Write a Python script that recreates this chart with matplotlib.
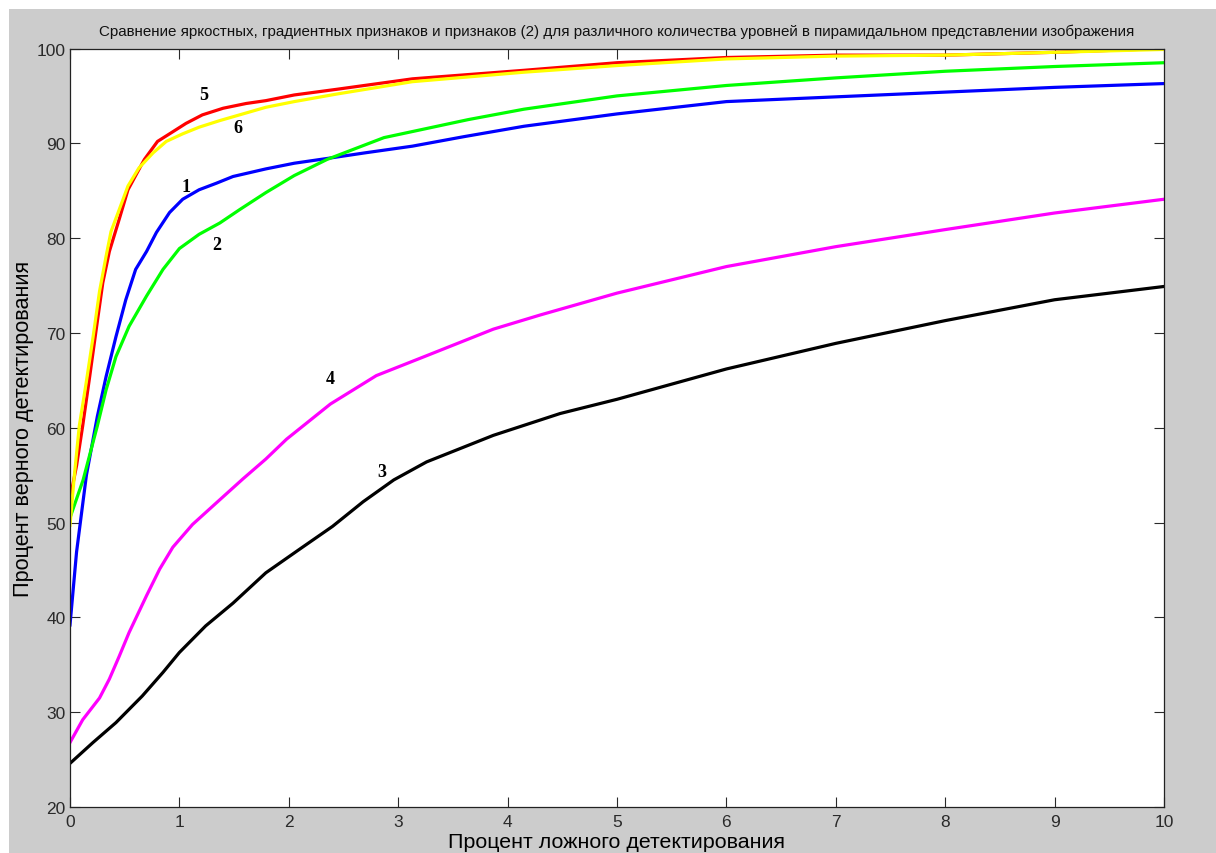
import matplotlib
matplotlib.use("Agg")
import matplotlib.pyplot as plt
from matplotlib.patches import Rectangle

# ---- data ----
x1 = [0, 0.06, 0.15, 0.25, 0.33, 0.42, 0.51, 0.60, 0.70, 0.79, 0.91, 1.03, 1.18, 1.34, 1.49, 1.64, 1.79, 2.05, 2.35, 2.7, 3.13, 3.6, 4.15, 5, 6, 7, 8, 9, 10]
y1 = [39.2, 46.9, 55.0, 61.2, 65.4, 69.6, 73.5, 76.7, 78.6, 80.6, 82.7, 84.1, 85.1, 85.8, 86.5, 86.9, 87.3, 87.9, 88.4, 89.0, 89.7, 90.7, 91.8, 93.1, 94.4, 94.9, 95.4, 95.9, 96.3]

x2 = [0, 0.12, 0.25, 0.33, 0.42, 0.54, 0.70, 0.85, 1.0, 1.18, 1.37, 1.55, 1.79, 2.05, 2.35, 2.87, 3.64, 4.15, 5, 6, 7, 8, 9, 10]
y2 = [50.5, 54.5, 60.2, 64.0, 67.5, 70.7, 73.9, 76.7, 78.9, 80.4, 81.6, 83.0, 84.8, 86.6, 88.3, 90.6, 92.5, 93.6, 95.0, 96.1, 96.9, 97.6, 98.1, 98.5]

x3 = [0, 0.21, 0.42, 0.66, 0.85, 1.0, 1.24, 1.49, 1.79, 2.10, 2.40, 2.68, 2.96, 3.26, 3.87, 4.48, 5, 6, 7, 8, 9, 10]
y3 = [24.6, 26.8, 28.9, 31.7, 34.2, 36.3, 39.1, 41.5, 44.7, 47.2, 49.6, 52.2, 54.5, 56.4, 59.2, 61.5, 63.0, 66.2, 68.9, 71.3, 73.5, 74.9]

x4 = [0, 0.116, 0.27, 0.36, 0.45, 0.54, 0.70, 0.82, 0.94, 1.12, 1.34, 1.58, 1.79, 1.98, 2.38, 2.80, 3.26, 3.87, 4.3, 5, 6, 7, 8, 9, 10]
y4 = [26.8, 29.2, 31.5, 33.5, 35.9, 38.4, 42.3, 45.1, 47.4, 49.8, 52.1, 54.6, 56.7, 58.8, 62.5, 65.5, 67.6, 70.4, 71.9, 74.2, 77.0, 79.1, 80.9, 82.65, 84.1]

x5 = [0, 0.06, 0.116, 0.18, 0.24, 0.30, 0.36, 0.45, 0.53, 0.60, 0.68, 0.80, 0.91, 1.06, 1.21, 1.40, 1.61, 1.79, 2.05, 2.44, 3.13, 4.15, 5, 6, 7, 8, 9, 10]
y5 = [52.5, 56.0, 60.2, 65.4, 70.4, 75.3, 78.6, 82.0, 85.1, 86.6, 88.3, 90.2, 91.0, 92.1, 93.0, 93.7, 94.2, 94.5, 95.1, 95.7, 96.8, 97.7, 98.5, 99.05, 99.3, 99.3, 99.6, 100]

x6 = [0, 0.04, 0.085, 0.146, 0.21, 0.27, 0.33, 0.375, 0.44, 0.53, 0.63, 0.76, 0.88, 1.03, 1.18, 1.37, 1.58, 1.79, 2.05, 2.44, 3.13, 4.15, 5, 6, 7, 8, 9, 10]
y6 = [49.7, 55.0, 60.2, 64.6, 69.5, 74.4, 78.1, 80.7, 82.7, 85.5, 87.4, 89.0, 90.2, 91.0, 91.7, 92.4, 93.1, 93.8, 94.4, 95.2, 96.5, 97.5, 98.2, 98.9, 99.2, 99.3, 99.6, 99.9]

labels = ["1", "2", "3", "4", "5", "6"]
label_x = [1.06, 1.34, 2.85, 2.38, 1.22, 1.53]
label_y = [85.4, 79.3, 55.4, 65.2, 95.1, 91.7]

xticks = [0, 1, 2, 3, 4, 5, 6, 7, 8, 9, 10]
yticks = [20, 30, 40, 50, 60, 70, 80, 90, 100]

title = ("Сравнение яркостных, градиентных признаков и признаков (2) для различного "
         "количества уровней в пирамидальном представлении изображения")
xlabel = "Процент ложного детектирования"
ylabel = "Процент верного детектирования"

# ---- figure ----
fig = plt.figure(figsize=(12.16, 8.54), dpi=100, facecolor="#cccccc")
fig.add_artist(Rectangle((0, 1 - 10 / 854), 1, 10 / 854, transform=fig.transFigure,
                         facecolor="white", edgecolor="none"))
fig.add_artist(Rectangle((0, 0), 9 / 1216, 1, transform=fig.transFigure,
                         facecolor="white", edgecolor="none"))

ax = fig.add_axes([70 / 1216, 1 - 808 / 854, (1164 - 70) / 1216, (808 - 49.5) / 854])
ax.set_facecolor("white")

lw = 2.3
ax.plot(x1, y1, color=(0, 0, 1), lw=lw)
ax.plot(x2, y2, color=(0, 1, 0), lw=lw)
ax.plot(x3, y3, color=(0, 0, 0), lw=lw)
ax.plot(x4, y4, color=(1, 0, 1), lw=lw)
ax.plot(x5, y5, color=(1, 0, 0), lw=lw)
ax.plot(x6, y6, color=(1, 1, 0), lw=lw)

for t, lx, ly in zip(labels, label_x, label_y):
    ax.text(lx, ly, t, fontfamily="Liberation Serif", fontweight="bold",
            fontsize=13, ha="center", va="center", color="black")

ax.set_xlim(0, 10)
ax.set_ylim(20, 100)
ax.set_xticks(xticks)
ax.set_yticks(yticks)
ax.tick_params(direction="in", length=7, width=0.8, top=True, right=True,
               labelsize=12.5, colors="#2a2a2a", pad=3)
ax.tick_params(axis="x", pad=5)
for lab in ax.get_xticklabels() + ax.get_yticklabels():
    lab.set_fontfamily("Liberation Sans")
for s in ax.spines.values():
    s.set_linewidth(0.9)
    s.set_color("#222222")

ax.set_title(title, fontsize=10.9, fontfamily="Liberation Sans", color="#111111", pad=10)
ax.set_xlabel(xlabel, fontsize=15.4, fontfamily="Liberation Sans", labelpad=2.5)
ax.set_ylabel(ylabel, fontsize=15.6, fontfamily="Liberation Sans", labelpad=2)

fig.savefig("out.png", dpi=100, facecolor=fig.get_facecolor())
